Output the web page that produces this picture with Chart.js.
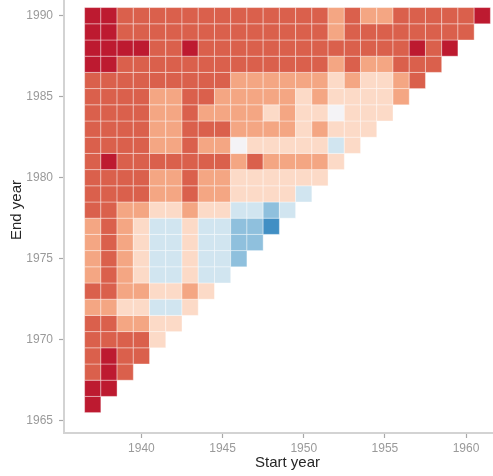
<!DOCTYPE html>
<html>
<head>
<meta charset="utf-8">
<script src="https://cdn.jsdelivr.net/npm/chart.js@4.4.1/dist/chart.umd.min.js"></script>
<style>
html,body{margin:0;padding:0;background:#ffffff;overflow:hidden;width:493px;height:476px;}
#wrap{position:absolute;left:0;top:-27px;width:520px;height:503px;}
</style>
</head>
<body>
<div id="wrap"><canvas id="c"></canvas></div>
<script>
// Categories
const startYears = [1937,1938,1939,1940,1941,1942,1943,1944,1945,1946,1947,1948,1949,1950,1951,1952,1953,1954,1955,1956,1957,1958,1959,1960,1961];
const endYears = [1966,1967,1968,1969,1970,1971,1972,1973,1974,1975,1976,1977,1978,1979,1980,1981,1982,1983,1984,1985,1986,1987,1988,1989,1990];

// Tick labels
const xTicks = [1940,1945,1950,1955,1960];
const yTicks = [1965,1970,1975,1980,1985,1990];

// Cell values (class levels, -3 = strong blue ... 4 = strong red); row k = endYears[k], i-th value = startYears[i]
const cellLevels = [
  [4],
  [4,4],
  [3,4,3],
  [3,4,3,3],
  [3,3,3,3,1],
  [3,3,2,2,1,1],
  [2,2,1,1,-1,-1,1],
  [3,3,2,2,1,1,2,1],
  [2,3,2,1,-1,-1,1,-1,-1],
  [2,3,2,1,-1,-1,1,-1,-1,-2],
  [2,3,2,1,-1,-1,1,-1,-1,-2,-2],
  [2,3,2,1,-1,-1,1,-1,-1,-2,-2,-3],
  [3,3,2,2,1,1,2,1,1,-1,-1,-2,-1],
  [3,3,3,3,2,2,3,2,2,1,1,1,1,-1],
  [3,3,3,3,2,2,3,2,2,1,1,1,1,1,1],
  [3,4,3,3,3,3,3,3,3,2,3,2,2,2,2,1],
  [3,3,3,3,2,2,3,2,2,0,1,1,1,1,1,-1,1],
  [3,3,3,3,2,2,3,3,3,2,2,2,2,1,2,1,1,1],
  [3,3,3,3,2,2,3,2,2,2,2,1,2,1,1,0,1,1,1],
  [3,3,3,3,2,2,3,3,2,2,2,2,2,1,2,1,1,1,1,2],
  [3,3,3,3,3,3,3,3,3,2,2,2,2,2,2,1,2,1,1,2,3],
  [4,4,3,3,3,3,3,3,3,3,3,3,3,3,3,2,3,2,2,3,3,3],
  [4,4,4,4,3,3,4,3,3,3,3,3,3,3,3,3,3,3,3,3,4,3,4],
  [4,4,3,3,3,3,3,3,3,3,3,3,3,3,3,2,3,3,3,3,3,3,3,3],
  [4,4,3,3,3,3,3,3,3,3,3,3,3,3,3,2,3,2,2,3,3,3,3,3,4]
];

// Style config
const levelColors = {
  '4': '#bd1a30',
  '3': '#da604c',
  '2': '#f4a683',
  '1': '#fcdac7',
  '0': '#f4f3f6',
  '-1': '#d1e5f0',
  '-2': '#8fc0dd',
  '-3': '#418fc4'
};
const FONT = '"Liberation Sans", Arial, Helvetica, sans-serif';

const points = [];
cellLevels.forEach((row, k) => {
  row.forEach((v, i) => {
    points.push({x: startYears[i], y: endYears[k], v: v});
  });
});

function cellRadius(ctx) {
  const s = ctx.chart.scales.x;
  if (!s) return 11;
  const w = Math.abs(s.getPixelForValue(1)-s.getPixelForValue(0));
  return w / Math.SQRT2;
}

new Chart(document.getElementById('c'), {
  type: 'scatter',
  data: {
    datasets: [{
      data: points,
      pointStyle: 'rect',
      pointRadius: cellRadius,
      pointHoverRadius: cellRadius,
      backgroundColor: ctx => levelColors[String(ctx.raw ? ctx.raw.v : 0)],
      borderColor: 'rgba(255,255,255,0.38)',
      borderWidth: 1
    }]
  },
  options: {
    responsive: true,
    maintainAspectRatio: false,
    animation: false,
    events: [],
    layout: {padding: {top: 14, right: 9, left: 0, bottom: 0}},
    plugins: {legend: {display: false}, tooltip: {enabled: false}},
    scales: {
      x: {
        type: 'linear',
        min: 1935.23,
        max: 1962.77,
        afterBuildTicks: s => { s.ticks = xTicks.map(v => ({value: v})); },
        afterFit: s => { s.height = 43; },
        ticks: {color: '#9a9a9a', font: {family: FONT, size: 12}, padding: 3, callback: v => String(v), maxRotation: 0, autoSkip: false},
        grid: {display: true, drawOnChartArea: false, drawTicks: true, tickLength: 5, tickColor: '#a8a8a8', tickWidth: 1.2},
        border: {display: true, color: '#d3d3d3', width: 2},
        title: {display: true, text: 'Start year', color: '#262626', font: {family: FONT, size: 15}, padding: {top: 0, bottom: 4}}
      },
      y: {
        type: 'linear',
        min: 1964.24,
        max: 1991.77,
        afterBuildTicks: s => { s.ticks = yTicks.map(v => ({value: v})); },
        afterFit: s => { s.width = 64; },
        ticks: {color: '#9a9a9a', font: {family: FONT, size: 12}, padding: 6, callback: v => String(v), autoSkip: false},
        grid: {display: true, drawOnChartArea: false, drawTicks: true, tickLength: 5, tickColor: '#a8a8a8', tickWidth: 1.2},
        border: {display: true, color: '#d3d3d3', width: 2},
        title: {display: true, text: 'End year', color: '#262626', font: {family: FONT, size: 15}, padding: {top: 8, bottom: 0}}
      }
    }
  }
});
</script>
</body>
</html>
